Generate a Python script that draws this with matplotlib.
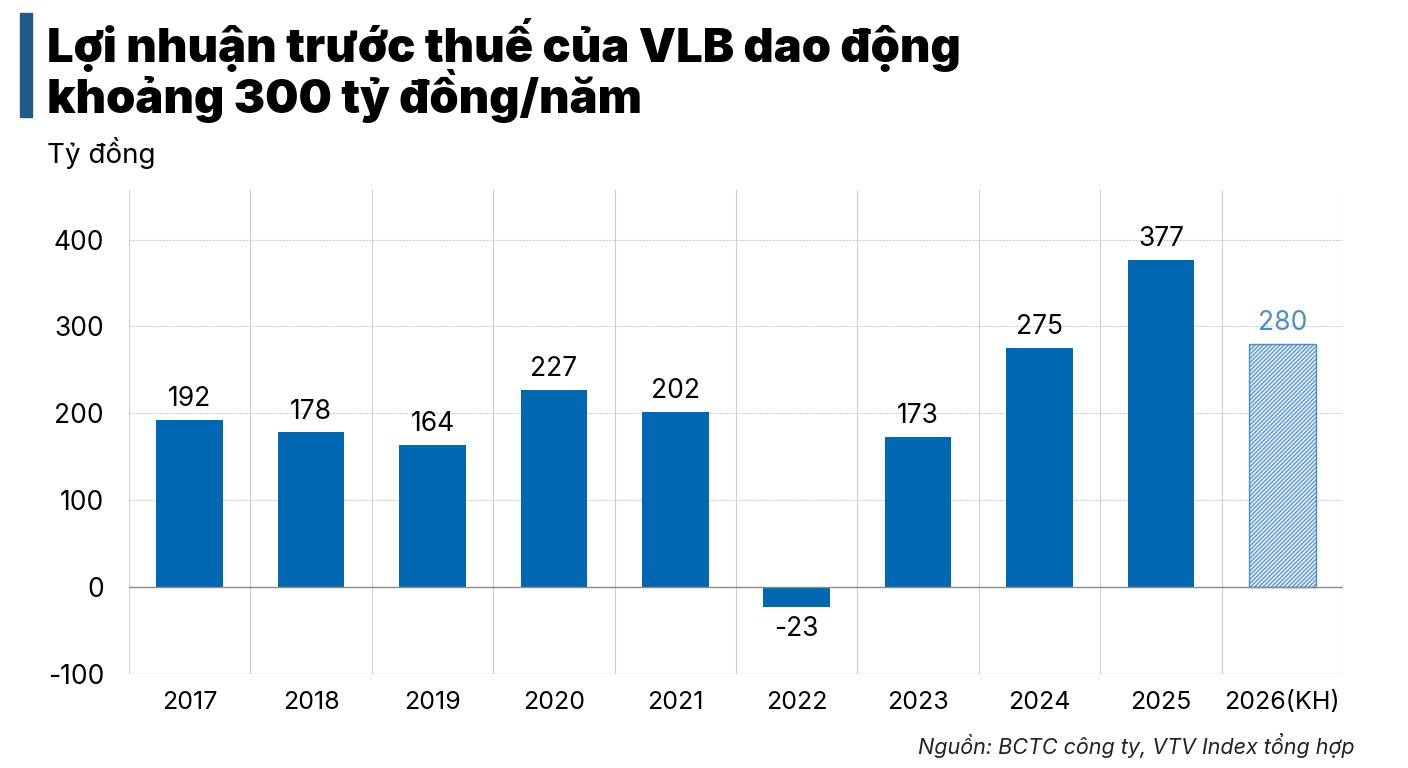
import matplotlib
matplotlib.use("Agg")
from matplotlib import pyplot as plt
import numpy as np

# du lieu
nam = ["2017", "2018", "2019", "2020", "2021", "2022", "2023", "2024", "2025", "2026(KH)"]
loi_nhuan = [192, 178, 164, 227, 202, -23, 173, 275, 377, 280]
yticks = [-100, 0, 100, 200, 300, 400]

XANH = "#0068B3"
XANH_NHAT = "#4F8CC6"

plt.rcParams["font.family"] = ["Inter", "DejaVu Sans"]
plt.rcParams["hatch.color"] = XANH_NHAT
plt.rcParams["hatch.linewidth"] = 0.8

fig = plt.figure(figsize=(14.08, 7.68), dpi=100)
ax = fig.add_axes([129 / 1408, 1 - 674 / 768, (1343 - 129) / 1408, (674 - 190) / 768])

x = np.arange(len(nam))
for i, v in enumerate(loi_nhuan):
    if i == len(nam) - 1:
        ax.bar(x[i], v, width=0.55, color="#DCEAF6", edgecolor=XANH_NHAT,
               hatch="////////", linewidth=1.0, zorder=3)
        mau = XANH_NHAT
    else:
        ax.bar(x[i], v, width=0.55, color=XANH, zorder=3)
        mau = "black"
    if v >= 0:
        ax.text(x[i], v + 9, str(v), ha="center", va="bottom", fontsize=19, color=mau, zorder=4)
    else:
        ax.text(x[i], v - 10, str(v), ha="center", va="top", fontsize=19, color=mau, zorder=4)

ax.set_xlim(-0.5, len(nam) - 0.5)
ax.set_ylim(-100, 457)
ax.set_yticks(yticks)
ax.set_yticklabels([str(t) for t in yticks], fontsize=19)
ax.set_xticks(x)
ax.set_xticklabels(nam, fontsize=18)
ax.tick_params(length=0, pad=12)
ax.tick_params(axis="y", pad=18)

# luoi
for t in yticks[2:]:
    ax.axhline(t, color="#D0D0D0", linewidth=0.8, linestyle=(0, (2, 1)), zorder=1)
for b in np.arange(-0.5, len(nam) + 0.5, 1):
    ax.axvline(b, color="#D0D0D0", linewidth=0.8, zorder=1)
ax.axhline(0, color="#8A8A8A", linewidth=1.0, zorder=4)
ax.axhline(-100, color="#D0D0D0", linewidth=1.0, zorder=1)
for s in ax.spines.values():
    s.set_visible(False)

# tieu de
fig.patches.append(plt.Rectangle((20 / 1408, 1 - 117 / 768), 12 / 1408, 104 / 768,
                                 transform=fig.transFigure, color="#1F5A8A"))
fig.text(47 / 1408, 1 - 45 / 768, "Lợi nhuận trước thuế của VLB dao động",
         fontsize=33.8, fontweight=900, va="center", ha="left")
fig.text(47 / 1408, 1 - 96 / 768, "khoảng 300 tỷ đồng/năm",
         fontsize=33.8, fontweight=900, va="center", ha="left")
fig.text(47 / 1408, 1 - 153 / 768, "Tỷ đồng", fontsize=20, va="center", ha="left")
fig.text(1355 / 1408, 1 - 746 / 768, "Nguồn: BCTC công ty, VTV Index tổng hợp",
         fontsize=15.5, style="italic", va="center", ha="right", color="#222222")

fig.savefig("out.png", dpi=100, facecolor="white")
